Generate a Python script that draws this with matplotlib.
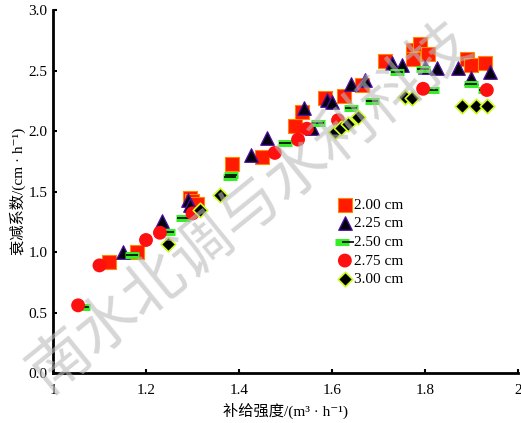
import matplotlib
matplotlib.use('Agg')
import matplotlib.pyplot as plt
from matplotlib.legend_handler import HandlerTuple

plt.rcParams['font.family'] = ['Liberation Serif', 'Noto Sans CJK SC', 'DejaVu Serif']

# 补给强度 (x) vs 衰减系数 (y), one pair of lists per burial depth
x_200 = [1.295, 1.30, 1.31, 1.18, 1.12, 1.385, 1.45, 1.52, 1.535, 1.585, 1.626, 1.665,
         1.714, 1.774, 1.79, 1.806, 1.774, 1.89, 1.90, 1.93]
y_200 = [1.45, 1.42, 1.40, 1.00, 0.92, 1.73, 1.79, 2.04, 2.16, 2.27, 2.29, 2.38,
         2.58, 2.67, 2.72, 2.64, 2.60, 2.60, 2.55, 2.56]

x_225 = [1.15, 1.234, 1.29, 1.295, 1.426, 1.46, 1.54, 1.557, 1.59, 1.60, 1.64, 1.67,
         1.73, 1.75, 1.80, 1.826, 1.87, 1.90, 1.94]
y_225 = [1.00, 1.26, 1.43, 1.39, 1.80, 1.94, 2.19, 2.03, 2.26, 2.24, 2.39, 2.42,
         2.56, 2.55, 2.53, 2.52, 2.52, 2.44, 2.49]

x_250 = [1.065, 1.17, 1.247, 1.28, 1.38, 1.382, 1.50, 1.57, 1.64, 1.686, 1.74, 1.796,
         1.815, 1.90, 1.93]
y_250 = [0.55, 0.975, 1.17, 1.28, 1.62, 1.64, 1.90, 2.07, 2.19, 2.25, 2.49, 2.51,
         2.34, 2.39, 2.34]

x_275 = [1.054, 1.10, 1.20, 1.23, 1.30, 1.477, 1.527, 1.546, 1.613, 1.796, 1.933]
y_275 = [0.56, 0.89, 1.10, 1.16, 1.32, 1.82, 1.93, 2.02, 2.09, 2.35, 2.34]

x_300 = [1.247, 1.316, 1.36, 1.606, 1.62, 1.634, 1.656, 1.757, 1.772, 1.88, 1.91, 1.933]
y_300 = [1.07, 1.35, 1.47, 1.99, 2.03, 2.06, 2.12, 2.28, 2.27, 2.21, 2.21, 2.21]

labels = ['2.00 cm', '2.25 cm', '2.50 cm', '2.75 cm', '3.00 cm']

fig = plt.figure(figsize=(5.21, 4.23), dpi=100)
ax = fig.add_axes([0.1017, 0.118, 0.8925, 0.858])

h1 = ax.scatter(x_200, y_200, marker='s', s=95, c='#ff1a00', edgecolors='#ff8800', linewidths=0.8, zorder=3)
h2 = ax.scatter(x_225, y_225, marker='^', s=95, c='#050010', edgecolors='#4a10a0', linewidths=0.9, zorder=4)
h3a = ax.scatter(x_250, y_250, marker='_', s=110, c='#33ee22', linewidths=5, zorder=5)
h3b = ax.scatter(x_250, y_250, marker='_', s=70, c='black', linewidths=1.2, zorder=5)
h4 = ax.scatter(x_275, y_275, marker='o', s=100, c='#ff1010', edgecolors='none', zorder=6)
h5 = ax.scatter(x_300, y_300, marker='D', s=55, c='black', edgecolors='#ccff22', linewidths=1.2, zorder=7)

ax.set_xlim(1, 2)
ax.set_ylim(0, 3.0)
ax.set_xticks([1, 1.2, 1.4, 1.6, 1.8, 2])
ax.set_xticklabels(['1', '1.2', '1.4', '1.6', '1.8', '2'])
ax.set_yticks([0, 0.5, 1.0, 1.5, 2.0, 2.5, 3.0])
ax.set_yticklabels(['0.0', '0.5', '1.0', '1.5', '2.0', '2.5', '3.0'])
ax.tick_params(direction='in', length=3, width=1.5, labelsize=11)
ax.tick_params(axis='x', pad=8)
ax.tick_params(axis='y', pad=4)
for side in ['top', 'right']:
    ax.spines[side].set_visible(False)
for side in ['left', 'bottom']:
    ax.spines[side].set_linewidth(2)

ax.set_xlabel('补给强度/(m³ · h⁻¹)', fontsize=11, labelpad=4)
ax.set_ylabel('衰减系数/(cm · h⁻¹)', fontsize=11, labelpad=2)

ax.legend([h1, h2, (h3a, h3b), h4, h5], labels, loc='upper left',
          bbox_to_anchor=(0.585, 0.52), frameon=False, fontsize=11,
          handlelength=0.8, handletextpad=0.2, labelspacing=0.32,
          handler_map={tuple: HandlerTuple(ndivide=None, pad=0)})

# watermark
fig.text(0.48, 0.51, '南水北调与水利科技', fontsize=44, color='#bbbbbb', alpha=0.6,
         rotation=39, ha='center', va='center', family=['Noto Sans CJK SC'], zorder=10)

fig.savefig('out.png', dpi=100)
